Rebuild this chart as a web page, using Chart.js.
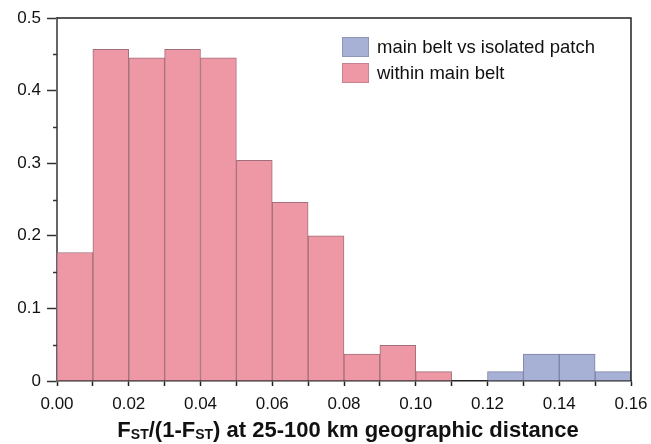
<!DOCTYPE html>
<html>
<head>
<meta charset="utf-8">
<script src="https://cdn.jsdelivr.net/npm/chart.js@4"></script>
<style>
  body { margin: 0; background: #fff; font-family: "Liberation Sans", Arial, sans-serif; }
  #wrap { position: relative; width: 651px; height: 444px; overflow: hidden; }
  #legend { position: absolute; left: 342px; top: 34px; font-size: 18.5px; color: #111; }
  .item { display: flex; align-items: center; height: 26px; }
  .box { width: 27px; height: 20px; margin-right: 8px; box-sizing: border-box; }
  #xtitle { position: absolute; left: 0; width: 696px; top: 417px; text-align: center;
            font-size: 22px; font-weight: bold; color: #111; line-height: 26px; white-space: nowrap; }
  #xtitle sub { font-size: 14px; vertical-align: -2px; line-height: 0; }
</style>
</head>
<body>
<div id="wrap">
  <canvas id="hist" width="651" height="444"></canvas>
  <div id="legend">
    <div class="item"><span class="box" style="background:#a7b1d6;border:1px solid #8d96b9"></span>main belt vs isolated patch</div>
    <div class="item"><span class="box" style="background:#ee97a5;border:1px solid #c98390"></span>within main belt</div>
  </div>
  <div id="xtitle">F<sub>ST</sub>/(1-F<sub>ST</sub>) at 25-100 km geographic distance</div>
</div>
<script>
// bins of width 0.01 from 0.00 to 0.16
const bins = ['0.00','0.01','0.02','0.03','0.04','0.05','0.06','0.07',
              '0.08','0.09','0.10','0.11','0.12','0.13','0.14','0.15'];
const withinBelt = [0.177, 0.457, 0.445, 0.457, 0.445, 0.304, 0.246, 0.200,
                    0.037, 0.049, 0.013, null, null, null, null, null];
const vsPatch = [null, null, null, null, null, null, null, null,
                 null, null, null, null, 0.013, 0.037, 0.037, 0.013];
const yMinor = [0.05, 0.15, 0.25, 0.35, 0.45];

const fontTick = { family: '"Liberation Sans", Arial, sans-serif', size: 17 };

// frame on top/right and minor ticks on the left axis
const frame = {
  id: 'frame',
  afterDraw(chart) {
    const c = chart.ctx, a = chart.chartArea, y = chart.scales.y;
    c.save();
    c.strokeStyle = '#222';
    c.lineWidth = 1.5;
    c.beginPath();
    c.moveTo(a.left, a.top); c.lineTo(a.right, a.top); c.lineTo(a.right, a.bottom);
    c.stroke();
    c.strokeStyle = '#333';
    yMinor.forEach(v => {
      const py = Math.round(y.getPixelForValue(v)) + 0.5;
      c.beginPath(); c.moveTo(a.left - 4, py); c.lineTo(a.left, py); c.stroke();
    });
    c.restore();
  }
};

new Chart(document.getElementById('hist'), {
  type: 'bar',
  data: {
    labels: bins,
    datasets: [{
      label: 'main belt vs isolated patch',
      data: vsPatch,
      backgroundColor: '#a7b1d6',
      borderColor: '#7b84a6',
      borderWidth: 1,
      barPercentage: 1,
      categoryPercentage: 1
    }, {
      label: 'within main belt',
      data: withinBelt,
      backgroundColor: '#ee97a5',
      borderColor: '#a0707a',
      borderWidth: 1,
      barPercentage: 1,
      categoryPercentage: 1
    }]
  },
  options: {
    responsive: false,
    animation: false,
    devicePixelRatio: 1,
    layout: { padding: { top: 18, right: 20, bottom: 24, left: 0 } },
    plugins: { legend: { display: false }, tooltip: { enabled: false } },
    scales: {
      x: { stacked: true, display: false },
      xt: {
        type: 'linear', position: 'bottom', min: 0, max: 0.16, offset: false,
        afterFit: s => { s.height = 39; s.paddingLeft = 0; s.paddingRight = 0; },
        border: { color: '#222', width: 1.5 },
        grid: { offset: false, drawOnChartArea: false, tickLength: 5, tickColor: '#222', tickWidth: 1.5 },
        ticks: {
          stepSize: 0.01, padding: 8, color: '#111', font: fontTick, maxRotation: 0, autoSkip: false,
          callback: v => Math.round(v * 100) % 2 === 0 ? v.toFixed(2) : ''
        }
      },
      y: {
        stacked: true, min: 0, max: 0.5,
        afterFit: s => { s.width = 57; s.paddingTop = 0; s.paddingBottom = 0; },
        border: { color: '#666', width: 2 },
        grid: { drawOnChartArea: false, tickLength: 10, tickColor: '#333', tickWidth: 1.5 },
        ticks: {
          stepSize: 0.1, padding: 6, color: '#111', font: fontTick,
          callback: v => v === 0 ? '0' : v.toFixed(1)
        }
      }
    }
  },
  plugins: [frame]
});
</script>
</body>
</html>
